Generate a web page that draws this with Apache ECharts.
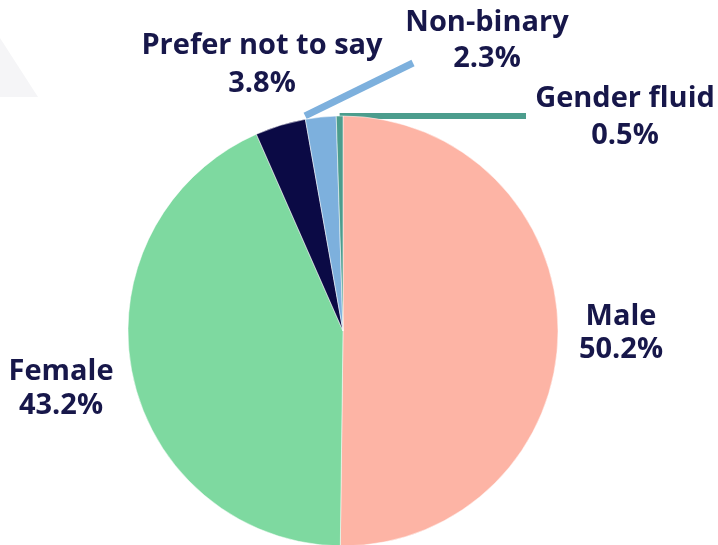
<!DOCTYPE html>
<html>
<head>
<meta charset="utf-8">
<script src="https://cdn.jsdelivr.net/npm/echarts@6/dist/echarts.min.js"></script>
<style>
  html, body { margin: 0; padding: 0; background: #ffffff; }
  #chart { width: 718px; height: 545px; }
</style>
</head>
<body>
<div id="chart"></div>
<script>
// ---- data ----
const categories = ['Male', 'Female', 'Prefer not to say', 'Non-binary', 'Gender fluid'];
const shares = [50.2, 43.2, 3.8, 2.3, 0.5];
const colors = ['#FDB4A5', '#7ED9A0', '#0B0A45', '#7DB0DD', '#4C9D8D'];

// ---- label layout (positions of label text blocks, line ends) ----
const labelCenters = [[621, 333], [61, 389], [262, 65], [487, 41], [625, 117]];
const labelLineHeights = [33, 34, 38, 36, 37];
const lineEnds = [null, null, null, [413, 63], [526, 116]];
const lineWidths = [0, 0, 0, 7, 6];

const chart = echarts.init(document.getElementById('chart'));

const data = categories.map((name, i) => ({
  name: name,
  value: shares[i],
  itemStyle: { color: colors[i] },
  label: { lineHeight: labelLineHeights[i] },
  labelLine: {
    show: lineEnds[i] !== null,
    lineStyle: { color: colors[i], width: lineWidths[i], cap: 'butt' }
  }
}));

chart.setOption({
  animation: false,
  graphic: [{
    type: 'polygon',
    shape: { points: [[0, 38], [38, 97], [0, 97]] },
    style: { fill: '#f5f5f7' },
    silent: true,
    z: -10
  }],
  series: [{
    type: 'pie',
    center: [343, 331],
    radius: [0, 215],
    startAngle: 90,
    clockwise: true,
    avoidLabelOverlap: false,
    minShowLabelAngle: 0,
    itemStyle: { borderColor: '#ffffff', borderWidth: 0.5 },
    label: {
      show: true,
      position: 'outside',
      formatter: p => p.name + '\n' + p.value.toFixed(1) + '%',
      fontFamily: 'Open Sans',
      fontWeight: 700,
      fontSize: 29,
      color: '#17174A',
      align: 'center'
    },
    labelLine: { show: false, length: 10, length2: 10 },
    labelLayout: function (params) {
      const i = params.dataIndex;
      const c = labelCenters[i];
      const res = { x: c[0], y: c[1], align: 'center', verticalAlign: 'middle' };
      if (lineEnds[i] && params.labelLinePoints) {
        // Non-binary line leaves from the slice's outer left corner; others from the mid-angle anchor
        const start = (i === 3 && params.rect)
          ? [params.rect.x, params.rect.y]
          : params.labelLinePoints[0];
        res.labelLinePoints = [[start[0], start[1]], lineEnds[i]];
      }
      return res;
    },
    data: data
  }]
});
</script>
</body>
</html>
